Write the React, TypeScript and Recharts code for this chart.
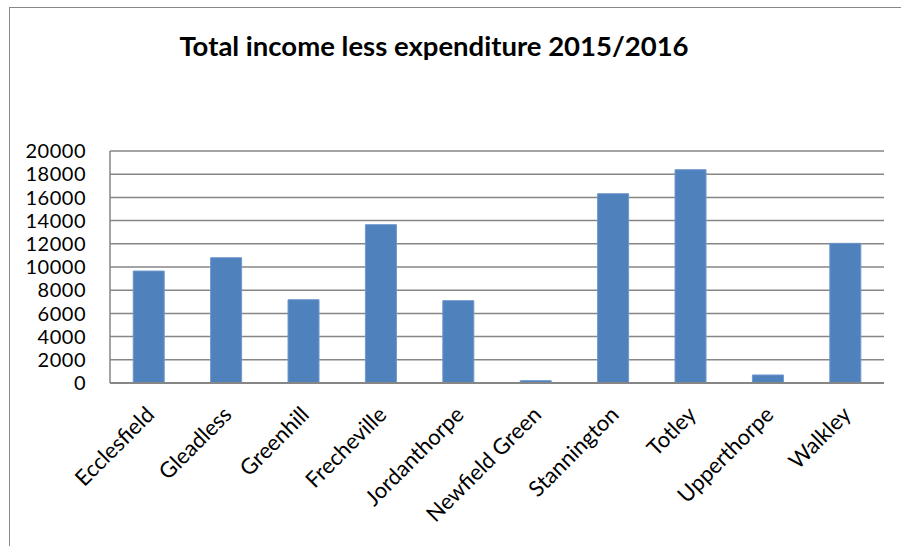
import { BarChart, Bar, XAxis, YAxis, CartesianGrid } from 'recharts';

const areas = [
  'Ecclesfield',
  'Gleadless',
  'Greenhill',
  'Frecheville',
  'Jordanthorpe',
  'Newfield Green',
  'Stannington',
  'Totley',
  'Upperthorpe',
  'Walkley',
];

const netIncome = [9650, 10800, 7180, 13650, 7100, 200, 16320, 18390, 690, 12040];

const yTicks = [0, 2000, 4000, 6000, 8000, 10000, 12000, 14000, 16000, 18000, 20000];

const data = areas.map((name, i) => ({ name, value: netIncome[i] }));

const FONT = 'Lato, "Open Sans", sans-serif';

const AreaTick = ({ x, y, payload }: any) => (
  <g transform={`translate(${x + 7},${y + 31})`}>
    <text
      x={0}
      y={0}
      textAnchor="end"
      transform="rotate(-45)"
      fontSize={22}
      fontFamily={FONT}
      fill="#000"
    >
      {payload.value}
    </text>
  </g>
);

export default function App() {
  return (
    <div
      style={{
        position: 'absolute',
        top: 0,
        left: 0,
        width: 901,
        height: 546,
        overflow: 'hidden',
        background: '#fff',
      }}
    >
      <div
        style={{
          position: 'absolute',
          left: 9,
          top: 7,
          width: 920,
          height: 600,
          border: '1px solid #888',
        }}
      />
      <div
        style={{
          position: 'absolute',
          left: 0,
          top: 29,
          width: 868,
          textAlign: 'center',
          fontFamily: FONT,
          fontWeight: 'bold',
          fontSize: 27.5,
          color: '#000',
        }}
      >
        Total income less expenditure 2015/2016
      </div>
      <div style={{ position: 'absolute', left: 0, top: 0 }}>
        <BarChart
          width={901}
          height={546}
          data={data}
          margin={{ top: 151, right: 17, bottom: 3, left: 10 }}
          barCategoryGap="30%"
        >
          <CartesianGrid vertical={false} stroke="#868686" strokeWidth={1.5} />
          <XAxis
            dataKey="name"
            interval={0}
            height={160}
            tickLine={false}
            tickSize={0}
            tick={<AreaTick />}
            axisLine={{ stroke: '#868686', strokeWidth: 2 }}
          />
          <YAxis
            width={100}
            domain={[0, 20000]}
            ticks={yTicks}
            interval={0}
            tickLine={false}
            tickSize={0}
            tickMargin={24}
            axisLine={{ stroke: '#868686', strokeWidth: 1.5 }}
            tick={{ fontSize: 20, letterSpacing: 0.5, fontFamily: FONT, fill: '#000' }}
          />
          <Bar dataKey="value" fill="#4F81BD" stroke="#6F97CB" isAnimationActive={false} />
        </BarChart>
      </div>
    </div>
  );
}
